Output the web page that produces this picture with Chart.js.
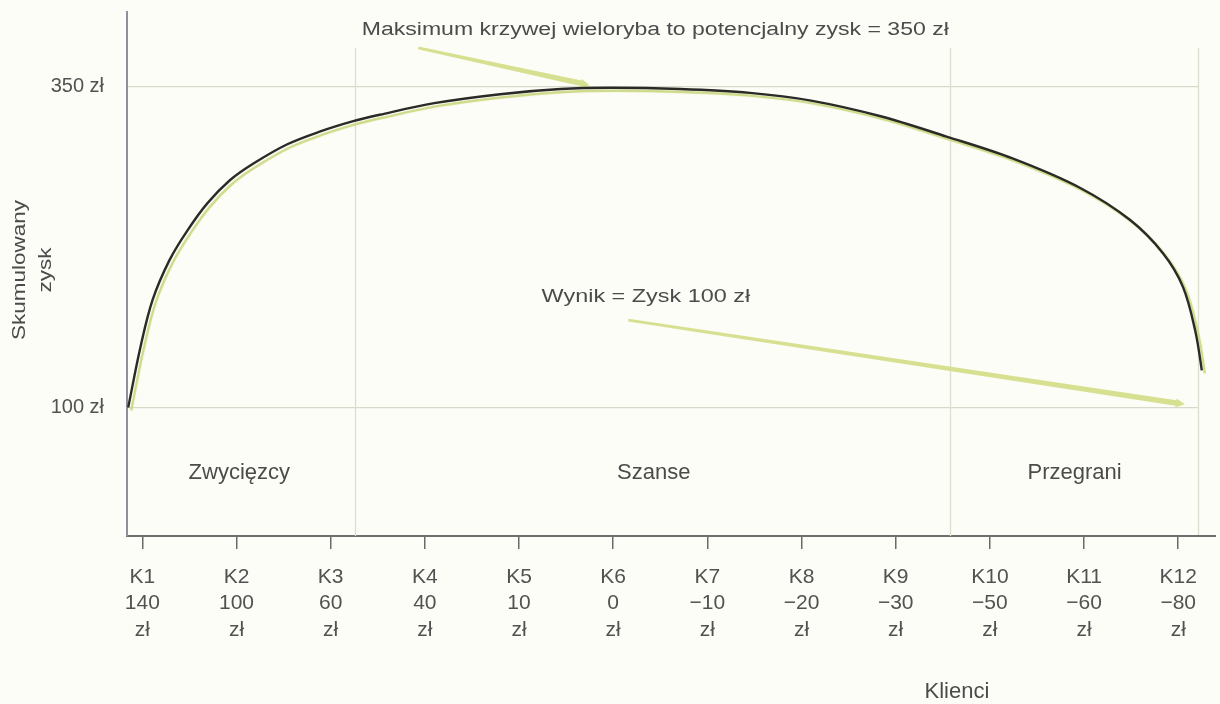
<!DOCTYPE html>
<html lang="pl">
<head>
<meta charset="utf-8">
<title>Krzywa wieloryba – skumulowany zysk</title>
<script src="https://cdn.jsdelivr.net/npm/chart.js@4.4.1/dist/chart.umd.min.js"></script>
<style>
  html, body { margin: 0; padding: 0; background: #fdfdf7; }
  #wrap { position: relative; width: 1220px; height: 704px; }
</style>
</head>
<body>
<div id="wrap"><canvas id="chart" width="1220" height="704"></canvas></div>
<script>
// Klienci uszeregowani od najbardziej do najmniej zyskownego
const customers = ['K1', 'K2', 'K3', 'K4', 'K5', 'K6', 'K7', 'K8', 'K9', 'K10', 'K11', 'K12'];
// Zysk z każdego klienta (zł)
const profits = [140, 100, 60, 40, 10, 0, -10, -20, -30, -50, -60, -80];
// Poziomy opisane na osi zysku (zł)
const yTicks = [100, 350];
// Krzywa wieloryba: położenie na osi klientów i skumulowany zysk (zł)
const curveX = [0.85, 0.98, 1.11, 1.29, 1.48, 1.69, 1.93, 2.18, 2.54, 2.89, 3.24, 3.52, 4.10, 4.80, 5.44, 5.97, 6.71, 7.45, 8.10, 8.83, 9.54, 10.24, 10.96, 11.49, 11.84, 12.05, 12.18, 12.25, 12.28];
const curveY = [100, 147, 184, 215, 238, 259, 277, 290, 305, 315, 323, 328, 337, 344, 348, 349, 348, 345, 339, 327, 311, 294, 271, 246, 220, 194, 160, 129, 110];
// Grupy klientów
const groupNames = ['Zwycięzcy', 'Szanse', 'Przegrani'];

const FONT = "'Liberation Sans', Arial, Helvetica, sans-serif";
const TEXT = '#4b4b4b';

function fmtProfit(v) {
  return v < 0 ? '\u2212' + Math.abs(v) : String(v);
}

// Tekst z możliwością poziomego rozciągnięcia kroju
function drawText(ctx, text, x, y, size, opts = {}) {
  const sx = opts.sx || 1;
  const align = opts.align || 'left';
  ctx.save();
  ctx.font = size + 'px ' + FONT;
  ctx.fillStyle = opts.color || TEXT;
  ctx.textBaseline = 'middle';
  ctx.textAlign = 'left';
  const w = ctx.measureText(text).width * sx;
  const left = align === 'center' ? x - w / 2 : align === 'right' ? x - w : x;
  ctx.translate(left, y);
  ctx.scale(sx, 1);
  ctx.fillText(text, 0, 0);
  ctx.restore();
}

// Strzałka zwężająca się ku początkowi
function drawArrow(ctx, x0, y0, x1, y1, color) {
  const dx = x1 - x0, dy = y1 - y0;
  const len = Math.hypot(dx, dy);
  const ux = dx / len, uy = dy / len;
  const nx = -uy, ny = ux;
  const w0 = 1.4, w1 = 2.8, head = 9, hw = 4.5;
  const bx = x1 - ux * head, by = y1 - uy * head;
  ctx.save();
  ctx.fillStyle = color;
  ctx.beginPath();
  ctx.moveTo(x0 + nx * w0, y0 + ny * w0);
  ctx.lineTo(bx + nx * w1, by + ny * w1);
  ctx.lineTo(bx + nx * hw, by + ny * hw);
  ctx.lineTo(x1, y1);
  ctx.lineTo(bx - nx * hw, by - ny * hw);
  ctx.lineTo(bx - nx * w1, by - ny * w1);
  ctx.lineTo(x0 - nx * w0, y0 - ny * w0);
  ctx.closePath();
  ctx.fill();
  ctx.restore();
}

// Podziały na grupy, strzałki i opisy
const annotations = {
  id: 'whaleNotes',
  beforeDatasetsDraw(chart) {
    const { ctx, scales: { x, y } } = chart;
    const bounds = [3.26, 9.58, 12.21];
    ctx.save();
    ctx.strokeStyle = '#deded0';
    ctx.lineWidth = 1.3;
    bounds.forEach(b => {
      const px = Math.round(x.getPixelForValue(b)) + 0.5;
      ctx.beginPath();
      ctx.moveTo(px, y.getPixelForValue(380));
      ctx.lineTo(px, y.getPixelForValue(0));
      ctx.stroke();
    });
    ctx.restore();

    const arrowColor = 'rgba(212, 222, 138, 0.95)';
    drawArrow(ctx, x.getPixelForValue(3.93), y.getPixelForValue(380),
                   x.getPixelForValue(5.75), y.getPixelForValue(351), arrowColor);
    drawArrow(ctx, x.getPixelForValue(6.16), y.getPixelForValue(168),
                   x.getPixelForValue(12.07), y.getPixelForValue(102.5), arrowColor);
  },
  beforeDatasetDraw(chart) {
    const ctx = chart.ctx;
    ctx.save();
    ctx.shadowColor = 'rgba(200, 212, 120, 0.9)';
    ctx.shadowOffsetX = 3;
    ctx.shadowOffsetY = 3;
    ctx.shadowBlur = 1;
  },
  afterDatasetDraw(chart) {
    chart.ctx.restore();
  },
  afterDraw(chart) {
    const { ctx, chartArea, scales: { x, y } } = chart;
    // przedłużenie osi klientów
    ctx.save();
    ctx.strokeStyle = '#6f6f6f';
    ctx.lineWidth = 2;
    ctx.beginPath();
    ctx.moveTo(chartArea.right - 1, chartArea.bottom);
    ctx.lineTo(1216, chartArea.bottom);
    ctx.stroke();
    ctx.restore();

    drawText(ctx, 'Maksimum krzywej wieloryba to potencjalny zysk = 350 zł',
             x.getPixelForValue(3.33), y.getPixelForValue(394), 18, { sx: 1.28 });
    drawText(ctx, 'Wynik = Zysk 100 zł',
             x.getPixelForValue(5.24), y.getPixelForValue(186), 18, { sx: 1.3 });

    const centers = [2.03, 6.43, 10.9];
    groupNames.forEach((g, i) => {
      drawText(ctx, g, x.getPixelForValue(centers[i]), y.getPixelForValue(49), 22, { align: 'center' });
    });

    drawText(ctx, 'Klienci', x.getPixelForValue(9.65), chartArea.bottom + 156, 22, { align: 'center' });

    // tytuł osi zysku, dwa wiersze obrócone
    const cy = (chartArea.top + chartArea.bottom) / 2 - 4;
    [['Skumulowany', 20], ['zysk', 46]].forEach(([t, cx]) => {
      ctx.save();
      ctx.font = '18px ' + FONT;
      ctx.fillStyle = TEXT;
      ctx.textBaseline = 'middle';
      ctx.textAlign = 'center';
      ctx.translate(cx, cy);
      ctx.rotate(-Math.PI / 2);
      ctx.scale(1.25, 1);
      ctx.fillText(t, 0, 0);
      ctx.restore();
    });
  }
};

const points = curveX.map((v, i) => ({ x: v, y: curveY[i] }));

new Chart(document.getElementById('chart'), {
  type: 'line',
  data: {
    datasets: [{
      label: 'Skumulowany zysk',
      data: points,
      borderColor: '#2a2a26',
      borderWidth: 2.4,
      pointRadius: 0,
      fill: false,
      tension: 0.35,
      clip: false
    }]
  },
  options: {
    responsive: false,
    animation: false,
    events: [],
    layout: { padding: { top: 12, right: 22, bottom: 0, left: 0 } },
    plugins: { legend: { display: false }, tooltip: { enabled: false } },
    scales: {
      x: {
        type: 'linear',
        min: 0.8375,
        max: 12.21,
        afterBuildTicks: s => { s.ticks = customers.map((_, i) => ({ value: i + 1 })); },
        afterFit: s => { s.height = 168; s.paddingLeft = 0; s.paddingRight = 0; },
        grid: { drawOnChartArea: false, drawTicks: true, tickLength: 13, color: '#6a6a6a', lineWidth: 1.5 },
        border: { color: '#6f6f6f', width: 2 },
        ticks: {
          autoSkip: false,
          maxRotation: 0,
          padding: 15,
          color: '#525252',
          font: { family: FONT, size: 21, lineHeight: 1.26 },
          callback: (v, i) => [customers[i], fmtProfit(profits[i]), 'zł']
        }
      },
      y: {
        min: 0,
        max: 408,
        afterBuildTicks: s => { s.ticks = yTicks.map(v => ({ value: v })); },
        afterFit: s => { s.width = 127; s.paddingTop = 0; s.paddingBottom = 0; },
        grid: { color: '#d9d9cb', lineWidth: 1.2, drawTicks: false },
        border: { color: '#8f909c', width: 2 },
        ticks: {
          padding: 23,
          color: '#525252',
          font: { family: FONT, size: 20 },
          callback: v => v + ' zł'
        }
      }
    }
  },
  plugins: [annotations]
});
</script>
</body>
</html>
